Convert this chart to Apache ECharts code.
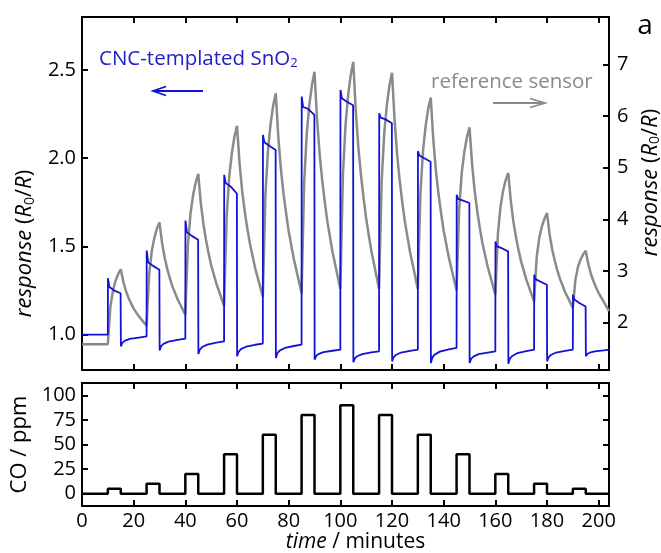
<!DOCTYPE html>
<html>
<head>
<meta charset="utf-8">
<script src="https://cdn.jsdelivr.net/npm/echarts@6/dist/echarts.min.js"></script>
<style>
html,body{margin:0;padding:0;background:#fff;}
#c{width:661px;height:553px;}
</style>
</head>
<body>
<div id="c"></div>
<script>
// ---------------- data ----------------
const xTicks = [0, 20, 40, 60, 80, 100, 120, 140, 160, 180, 200];
const leftTicks = [1.0, 1.5, 2.0, 2.5];
const rightTicks = [2, 3, 4, 5, 6, 7];
const coTicks = [0, 25, 50, 75, 100];

// reference sensor (gray, right axis)
const refTime = [0,
  10,11,12,13,14,15,16,17,18,19,20,22,
  25,26,27,28,29,30,31,32,33,34,35,37,
  40,41,42,43,44,45,46,47,48,49,50,52,
  55,56,57,58,59,60,61,62,63,64,65,67,
  70,71,72,73,74,75,76,77,78,79,80,82,
  85,86,87,88,89,90,91,92,93,94,95,97,
  100,101,102,103,104,105,106,107,108,109,110,112,
  115,116,117,118,119,120,121,122,123,124,125,127,
  130,131,132,133,134,135,136,137,138,139,140,142,
  145,146,147,148,149,150,151,152,153,154,155,157,
  160,161,162,163,164,165,166,167,168,169,170,172,
  175,176,177,178,179,180,181,182,183,184,185,187,
  190,191,192,193,194,195,196,197,198,199,200,202,204];
const refValue = [1.58,
  1.58,2.31,2.62,2.81,2.94,3.03,2.79,2.61,2.48,2.37,2.27,2.12,
  1.94,2.94,3.38,3.64,3.82,3.94,3.54,3.26,3.04,2.86,2.70,2.45,
  2.15,3.51,4.11,4.47,4.71,4.88,4.31,3.91,3.60,3.34,3.11,2.76,
  2.32,4.06,4.83,5.28,5.60,5.81,5.08,4.55,4.15,3.82,3.53,3.06,
  2.50,4.47,5.34,5.85,6.20,6.44,5.59,4.97,4.50,4.12,3.77,3.23,
  2.57,4.71,5.66,6.22,6.60,6.86,5.93,5.26,4.75,4.33,3.95,3.36,
  2.65,4.85,5.82,6.39,6.79,7.05,6.08,5.38,4.85,4.41,4.01,3.39,
  2.65,4.74,5.67,6.21,6.59,6.84,5.92,5.25,4.74,4.32,3.95,3.36,
  2.65,4.50,5.32,5.80,6.14,6.36,5.54,4.94,4.49,4.12,3.78,3.26,
  2.62,4.20,4.90,5.31,5.59,5.78,5.07,4.55,4.16,3.83,3.54,3.09,
  2.54,3.72,4.24,4.55,4.76,4.90,4.35,3.95,3.65,3.40,3.18,2.83,
  2.41,3.26,3.64,3.86,4.01,4.12,3.71,3.42,3.20,3.01,2.85,2.59,
  2.28,2.83,3.08,3.22,3.32,3.39,3.13,2.94,2.80,2.68,2.57,2.40,2.22];

// CNC-templated SnO2 (blue, left axis)
const cncTime = [0,
  10,10.05,10.6,12.5,14.95,15.05,15.6,16.5,18.5,22,
  25,25.05,25.6,27.5,29.95,30.05,30.6,31.5,33.5,37,
  40,40.05,40.6,42.5,44.95,45.05,45.6,46.5,48.5,52,
  55,55.05,55.6,57.5,59.95,60.05,60.6,61.5,63.5,67,
  70,70.05,70.6,72.5,74.95,75.05,75.6,76.5,78.5,82,
  85,85.05,85.6,87.5,89.95,90.05,90.6,91.5,93.5,97,
  100,100.05,100.6,102.5,104.95,105.05,105.6,106.5,108.5,112,
  115,115.05,115.6,117.5,119.95,120.05,120.6,121.5,123.5,127,
  130,130.05,130.6,132.5,134.95,135.05,135.6,136.5,138.5,142,
  145,145.05,145.6,147.5,149.95,150.05,150.6,151.5,153.5,157,
  160,160.05,160.6,162.5,164.95,165.05,165.6,166.5,168.5,172,
  175,175.05,175.6,177.5,179.95,180.05,180.6,181.5,183.5,187,
  190,190.05,190.6,192.5,194.95,195.05,195.6,196.5,198.5,202,
  204];
const cncValue = [1.00,
  1.00,1.32,1.27,1.25,1.235,0.934,0.954,0.965,0.976,0.984,
  0.99,1.477,1.41,1.39,1.368,0.911,0.934,0.948,0.961,0.971,
  0.978,1.647,1.58,1.56,1.538,0.891,0.916,0.93,0.944,0.955,
  0.962,1.906,1.86,1.84,1.80,0.878,0.903,0.918,0.932,0.943,
  0.95,2.132,2.09,2.07,2.047,0.868,0.895,0.91,0.925,0.936,
  0.944,2.349,2.29,2.28,2.245,0.859,0.879,0.89,0.901,0.909,
  0.915,2.387,2.34,2.32,2.30,0.844,0.866,0.878,0.89,0.90,
  0.906,2.255,2.23,2.22,2.198,0.849,0.872,0.885,0.899,0.908,
  0.915,2.04,2.015,2.00,1.98,0.84,0.87,0.887,0.904,0.917,
  0.925,1.793,1.77,1.76,1.746,0.84,0.863,0.876,0.89,0.899,
  0.906,1.528,1.50,1.49,1.472,0.836,0.864,0.879,0.895,0.907,
  0.915,1.34,1.315,1.30,1.283,0.849,0.872,0.885,0.899,0.908,
  0.915,1.227,1.20,1.18,1.16,0.878,0.891,0.898,0.906,0.911,
  0.915];

// CO concentration (step)
const coTime = [0,10,15,25,30,40,45,55,60,70,75,85,90,100,105,115,120,130,135,145,150,160,165,175,180,190,195,204];
const coValue = [0,5,0,10,0,20,0,40,0,60,0,80,0,90,0,80,0,60,0,40,0,20,0,10,0,5,0,0];

// ---------------- chart ----------------
const FONT = '"Open Sans", "Noto Sans", sans-serif';
const BLUE = '#1212d6';
const BLUE_TXT = '#2020c8';
const GRAY = '#8a8a8a';

const pairs = (xs, ys) => xs.map((x, i) => [x, ys[i]]);

const tickStyle = {inside: true, length: 6, lineStyle: {color: '#000', width: 2}};
const lineStyle = {show: true, onZero: false, lineStyle: {color: '#000', width: 2}};
const labelBase = {color: '#000', fontSize: 20, fontFamily: FONT};

function xAx(grid, pos, labels, extra) {
  return Object.assign({
    type: 'value', gridIndex: grid, position: pos, min: 0, max: 204,
    axisLine: lineStyle,
    axisTick: Object.assign({customValues: xTicks}, tickStyle),
    axisLabel: labels ? Object.assign({customValues: xTicks, margin: 5}, labelBase) : {show: false},
    splitLine: {show: false}
  }, extra || {});
}
function yAx(grid, pos, min, max, ticks, labels, fmt, extra) {
  return Object.assign({
    type: 'value', gridIndex: grid, position: pos, min: min, max: max,
    axisLine: lineStyle,
    axisTick: Object.assign({customValues: ticks}, tickStyle),
    axisLabel: labels ? Object.assign({customValues: ticks, margin: pos === 'left' ? 6 : 8, formatter: fmt}, labelBase) : {show: false},
    splitLine: {show: false}
  }, extra || {});
}

const NS = 22;
const nameRich = {
  i: {fontStyle: 'italic', fontSize: NS, fontFamily: FONT, color: '#000'},
  n: {fontSize: NS, fontFamily: FONT, color: '#000'},
  s: {fontSize: 14, fontFamily: FONT, color: '#000', padding: [10, 0, 0, 0]}
};
const timeRich = {
  i: {fontStyle: 'italic', fontSize: 21, fontFamily: FONT, color: '#000'},
  n: {fontSize: 21, fontFamily: FONT, color: '#000'}
};
const respName = '{i|response} {n|(}{i|R}{s|0}{n|/}{i|R}{n|)}';

const option = {
  animation: false,
  backgroundColor: '#fff',
  grid: [
    {left: 82, top: 17, width: 527, height: 353, outerBoundsMode: 'none', containLabel: false},
    {left: 82, top: 383, width: 527, height: 123, outerBoundsMode: 'none', containLabel: false}
  ],
  xAxis: [
    xAx(0, 'bottom', false),
    xAx(0, 'top', false),
    xAx(1, 'bottom', true, {
      name: '{i|time}{n| / minutes}', nameLocation: 'middle', nameGap: 25,
      nameTextStyle: {fontSize: 21, fontFamily: FONT, color: '#000', rich: timeRich, padding: [0, 0, 0, 20]}
    }),
    xAx(1, 'top', false)
  ],
  yAxis: [
    yAx(0, 'left', 0.8, 2.8, leftTicks, true, v => v.toFixed(1), {
      name: respName, nameLocation: 'middle', nameRotate: 90, nameGap: 42,
      nameTextStyle: {fontSize: NS, fontFamily: FONT, color: '#000', rich: nameRich, padding: [0, 100, 0, 0]}
    }),
    yAx(0, 'right', 1.08, 7.92, rightTicks, true, v => String(v), {
      name: respName, nameLocation: 'middle', nameRotate: 90, nameGap: 29,
      nameTextStyle: {fontSize: NS, fontFamily: FONT, color: '#000', rich: nameRich, padding: [0, 0, 0, 22]}
    }),
    yAx(1, 'left', -12.5, 112.5, coTicks, true, v => String(v), {
      name: 'CO / ppm', nameLocation: 'middle', nameRotate: 90, nameGap: 44,
      nameTextStyle: {fontSize: 22, fontFamily: FONT, color: '#000'}
    }),
    yAx(1, 'right', -12.5, 112.5, coTicks, false)
  ],
  series: [
    {
      name: 'reference sensor', type: 'line', xAxisIndex: 0, yAxisIndex: 1,
      data: pairs(refTime, refValue), showSymbol: false, symbol: 'none',
      lineStyle: {color: GRAY, width: 2.5}, z: 2
    },
    {
      name: 'CNC-templated SnO2', type: 'line', xAxisIndex: 0, yAxisIndex: 0,
      data: pairs(cncTime, cncValue), showSymbol: false, symbol: 'none',
      lineStyle: {color: BLUE, width: 1.8}, z: 3
    },
    {
      name: 'CO', type: 'line', xAxisIndex: 2, yAxisIndex: 2, step: 'end',
      data: pairs(coTime, coValue), showSymbol: false, symbol: 'none',
      lineStyle: {color: '#000', width: 2.5}, z: 3
    }
  ],
  graphic: [
    {
      type: 'text', x: 99, y: 59,
      style: {
        text: '{a|CNC-templated SnO}{s|2}', textVerticalAlign: 'middle', textAlign: 'left',
        rich: {
          a: {fontSize: 20.5, fontFamily: FONT, fill: BLUE_TXT, color: BLUE_TXT},
          s: {fontSize: 13, fontFamily: FONT, fill: BLUE_TXT, color: BLUE_TXT, padding: [9, 0, 0, 0]}
        }
      }
    },
    {type: 'line', shape: {x1: 203, y1: 91, x2: 153, y2: 91}, style: {stroke: BLUE, lineWidth: 1.8}},
    {type: 'polyline', shape: {points: [[166, 86.5], [153, 91], [166, 95.5]]}, style: {stroke: BLUE, lineWidth: 1.8, fill: null}},
    {
      type: 'text', x: 431, y: 82,
      style: {text: 'reference sensor', fontSize: 20.5, fontFamily: FONT, fill: GRAY, textVerticalAlign: 'middle', textAlign: 'left'}
    },
    {type: 'line', shape: {x1: 493, y1: 103, x2: 545, y2: 103}, style: {stroke: GRAY, lineWidth: 1.8}},
    {type: 'polyline', shape: {points: [[530, 98.5], [545, 103], [530, 107.5]]}, style: {stroke: GRAY, lineWidth: 1.8, fill: null}},
    {
      type: 'text', x: 645, y: 26,
      style: {text: 'a', fontSize: 28, fontFamily: FONT, fill: '#000', textVerticalAlign: 'middle', textAlign: 'center'}
    }
  ]
};

const chart = echarts.init(document.getElementById('c'), null, {renderer: 'canvas'});
chart.setOption(option);
</script>
</body>
</html>
